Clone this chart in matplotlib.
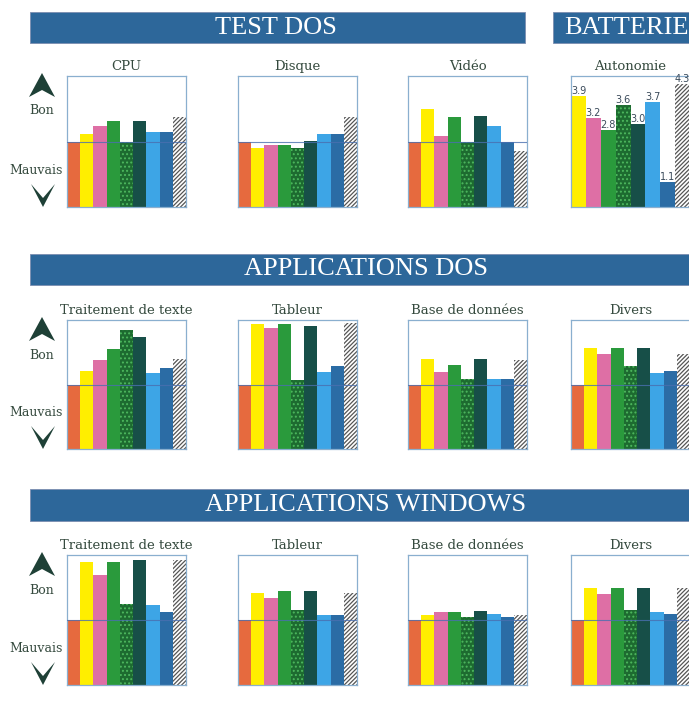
import matplotlib
matplotlib.use('Agg')
import matplotlib.pyplot as plt
from matplotlib.patches import Rectangle, Polygon

# Données (indice, référence = 100)
serie_labels = ['Référence', 'Machine 1', 'Machine 2', 'Machine 3', 'Machine 4',
                'Machine 5', 'Machine 6', 'Machine 7', 'Moyenne']
couleurs = ['#E66A3E', '#FFEE00', '#DE6FA5', '#2A9A3C', '#1D6B30',
            '#174F48', '#3DA5E6', '#2B6CA5', 'white']

dos_titres = ['CPU', 'Disque', 'Vidéo']
cpu = [100, 112, 124, 132, 100, 132, 115, 115, 137]
disque = [100, 90, 94, 94, 90, 101, 111, 111, 137]
video = [100, 149, 108, 138, 100, 139, 124, 100, 86]

autonomie = [3.9, 3.2, 2.8, 3.6, 3.0, 3.7, 1.1, 4.3]

app_titres = ['Traitement de texte', 'Tableur', 'Base de données', 'Divers']
dos_texte = [100, 121, 138, 155, 185, 174, 118, 125, 140]
dos_tableur = [100, 194, 187, 194, 107, 190, 120, 129, 196]
dos_base = [100, 140, 120, 130, 109, 139, 108, 108, 138]
dos_divers = [100, 156, 147, 156, 128, 156, 118, 121, 147]
win_texte = [100, 189, 169, 190, 124, 192, 123, 112, 192]
win_tableur = [100, 142, 134, 145, 116, 145, 108, 108, 142]
win_base = [100, 108, 112, 113, 105, 114, 110, 104, 108]
win_divers = [100, 149, 140, 150, 116, 150, 113, 110, 149]

W, H = 689, 706
fig = plt.figure(figsize=(W / 100, H / 100), dpi=100)
fig.patch.set_facecolor('white')

bandeau = '#2D679A'
cadre = '#8AAFCF'
texte_vert = '#354A3E'
fleche = '#1E4036'
plt.rcParams['hatch.linewidth'] = 0.9


def px_axes(x0, y0, x1, y1):
    return fig.add_axes([x0 / W, 1 - y1 / H, (x1 - x0) / W, (y1 - y0) / H])


def banniere(x0, y0, x1, y1, titre, xt):
    fig.add_artist(Rectangle((x0 / W, 1 - y1 / H), (x1 - x0) / W, (y1 - y0) / H,
                             transform=fig.transFigure, facecolor=bandeau,
                             edgecolor='#7B8DB0', lw=0.6))
    fig.text(xt / W, 1 - (y0 + y1) / 2 / H, titre, color='white',
             family='Liberation Serif', fontsize=19, ha='center', va='center')


def style_cadre(ax):
    ax.set_xticks([])
    ax.set_yticks([])
    for s in ax.spines.values():
        s.set_color(cadre)
        s.set_linewidth(0.9)


def textures(bars, i_points, i_hachures):
    bars[i_points].set_hatch('....')
    bars[i_points].set_edgecolor('#4DB85E')
    bars[i_hachures].set_hatch('////////')
    bars[i_hachures].set_edgecolor('#555555')


def panneau(x0, top, bottom, titre, valeurs):
    ax = px_axes(x0, top, x0 + 119, bottom)
    x = range(len(valeurs))
    bars = ax.bar(x, valeurs, width=1.0, color=couleurs, linewidth=0)
    textures(bars, 4, 8)
    ax.axhline(100, color='#4A6FB0', lw=0.8, alpha=0.8, zorder=3)
    ax.set_xlim(-0.5, 8.5)
    ax.set_ylim(0, 200)
    style_cadre(ax)
    ax.set_title(titre, fontsize=9.5, family='DejaVu Serif', color=texte_vert, pad=4)


def legende_gauche(top, bottom):
    up = [(42, top - 3), (55, top + 21), (42, top + 14), (29, top + 21)]
    down = [(43, bottom), (55, bottom - 23), (43, bottom - 9), (31, bottom - 23)]
    for pts in (up, down):
        fig.add_artist(Polygon([(px / W, 1 - py / H) for px, py in pts],
                               transform=fig.transFigure, facecolor=fleche,
                               edgecolor='none'))
    fig.text(42 / W, 1 - (top + 35) / H, 'Bon', ha='center', va='center',
             fontsize=9, family='DejaVu Serif', color=texte_vert)
    fig.text(36 / W, 1 - (bottom - 37) / H, 'Mauvais', ha='center', va='center',
             fontsize=9, family='DejaVu Serif', color=texte_vert)


colonnes = [67, 238, 408, 571]

# Rangée 1 : TEST DOS + BATTERIE
banniere(30, 12, 525, 43, 'TEST DOS', 276)
banniere(553, 12, 700, 43, 'BATTERIE', 626)
for x0, titre, vals in zip(colonnes[:3], dos_titres, [cpu, disque, video]):
    panneau(x0, 76, 207, titre, vals)

ax = px_axes(571, 76, 690, 207)
xb = range(len(autonomie))
bars = ax.bar(xb, autonomie, width=1.0, color=couleurs[1:], linewidth=0)
textures(bars, 3, 7)
for xi, v in zip(xb, autonomie):
    ax.text(xi, v, f'{v:.1f}', ha='center', va='bottom', fontsize=7,
            family='DejaVu Sans', color='#3A4A5A')
ax.set_xlim(-0.5, 7.5)
ax.set_ylim(0.3, 4.55)
style_cadre(ax)
ax.set_title('Autonomie', fontsize=9.5, family='DejaVu Serif', color=texte_vert, pad=4)
legende_gauche(76, 207)

# Rangée 2 : APPLICATIONS DOS
banniere(30, 254, 710, 285, 'APPLICATIONS DOS', 366)
for x0, titre, vals in zip(colonnes, app_titres,
                           [dos_texte, dos_tableur, dos_base, dos_divers]):
    panneau(x0, 320, 449, titre, vals)
legende_gauche(320, 449)

# Rangée 3 : APPLICATIONS WINDOWS
banniere(30, 489, 710, 521, 'APPLICATIONS WINDOWS', 366)
for x0, titre, vals in zip(colonnes, app_titres,
                           [win_texte, win_tableur, win_base, win_divers]):
    panneau(x0, 555, 685, titre, vals)
legende_gauche(555, 685)

plt.savefig('out.png', dpi=100)
plt.close()
